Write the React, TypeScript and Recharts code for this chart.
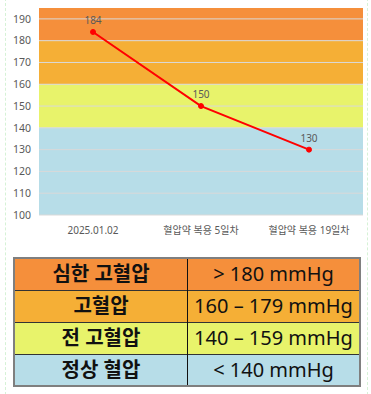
import React from 'react';
import { ComposedChart, Line, XAxis, YAxis, ReferenceArea, ReferenceLine, LabelList } from 'recharts';

const categories = ['2025.01.02', '혈압약 복용 5일차', '혈압약 복용 19일차'];
const pressure = [184, 150, 130];
const yTicks = [100, 110, 120, 130, 140, 150, 160, 170, 180, 190];
const bandLow = [180, 160, 140, 100];
const bandHigh = [195, 180, 160, 140];
const bandColors = ['#F58F3B', '#F5AF36', '#E8F36B', '#B7DDE8'];
const tableLabels = ['심한 고혈압', '고혈압', '전 고혈압', '정상 혈압'];
const tableRanges = ['> 180 mmHg', '160 – 179 mmHg', '140 – 159 mmHg', '< 140 mmHg'];

const data = categories.map((name, i) => ({ name, value: pressure[i] }));

const font = '"Noto Sans", "Noto Sans CJK KR", sans-serif';
const tickStyle = { fontSize: 10, fill: '#595959', fontFamily: font };
const yTickStyle = { fontSize: 10.5, fill: '#595959', fontFamily: font };

const App = () => {
  return (
    <div style={{ position: 'absolute', left: 0, top: 0, width: 371, height: 394, background: '#fff', overflow: 'hidden' }}>
      <div style={{ position: 'absolute', left: 5, top: -2, width: 361, height: 400, border: '1px dashed #d6f2d6' }} />
      <div style={{ position: 'absolute', left: 0, top: 0 }}>
        <ComposedChart width={371} height={240} data={data} margin={{ top: 8, right: 8, left: 0, bottom: 0 }}>
          <XAxis
            dataKey="name"
            scale="band"
            axisLine={false}
            tickLine={false}
            tickSize={0}
            tickMargin={12}
            height={25}
            tick={tickStyle}
            interval={0}
          />
          <YAxis
            domain={[100, 195]}
            ticks={yTicks}
            axisLine={false}
            tickLine={false}
            tickSize={0}
            tickMargin={8}
            width={39}
            tick={yTickStyle}
            allowDataOverflow
          />
          {bandColors.map((c, i) => (
            <ReferenceArea key={i} y1={bandLow[i]} y2={bandHigh[i]} fill={c} fillOpacity={1} stroke="none" />
          ))}
          {yTicks.map((t) => (
            <ReferenceLine key={t} y={t} stroke="#d9d9d9" strokeWidth={1} />
          ))}
          <Line
            dataKey="value"
            stroke="#ff0000"
            strokeWidth={2}
            dot={{ r: 2.5, fill: '#ff0000', stroke: '#ff0000', strokeWidth: 1 }}
            isAnimationActive={false}
          >
            <LabelList dataKey="value" position="top" offset={8} style={tickStyle} />
          </Line>
        </ComposedChart>
      </div>
      <table
        style={{
          position: 'absolute',
          left: 13,
          top: 257,
          width: 348,
          borderCollapse: 'collapse',
          border: '2px solid #7f7f7f',
          fontFamily: font,
          color: '#111',
        }}
      >
        <tbody>
          {tableLabels.map((label, i) => (
            <tr key={label} style={{ background: bandColors[i], height: 32 }}>
              <td style={{ width: 172, textAlign: 'center', fontWeight: 'bold', fontSize: 20, padding: 0, borderTop: '1px solid #333', borderRight: '1px solid #111', lineHeight: '30px' }}>
                {label}
              </td>
              <td style={{ textAlign: 'center', fontSize: 20, padding: 0, borderTop: '1px solid #333', lineHeight: '30px' }}>
                {tableRanges[i]}
              </td>
            </tr>
          ))}
        </tbody>
      </table>
    </div>
  );
};

export default App;
